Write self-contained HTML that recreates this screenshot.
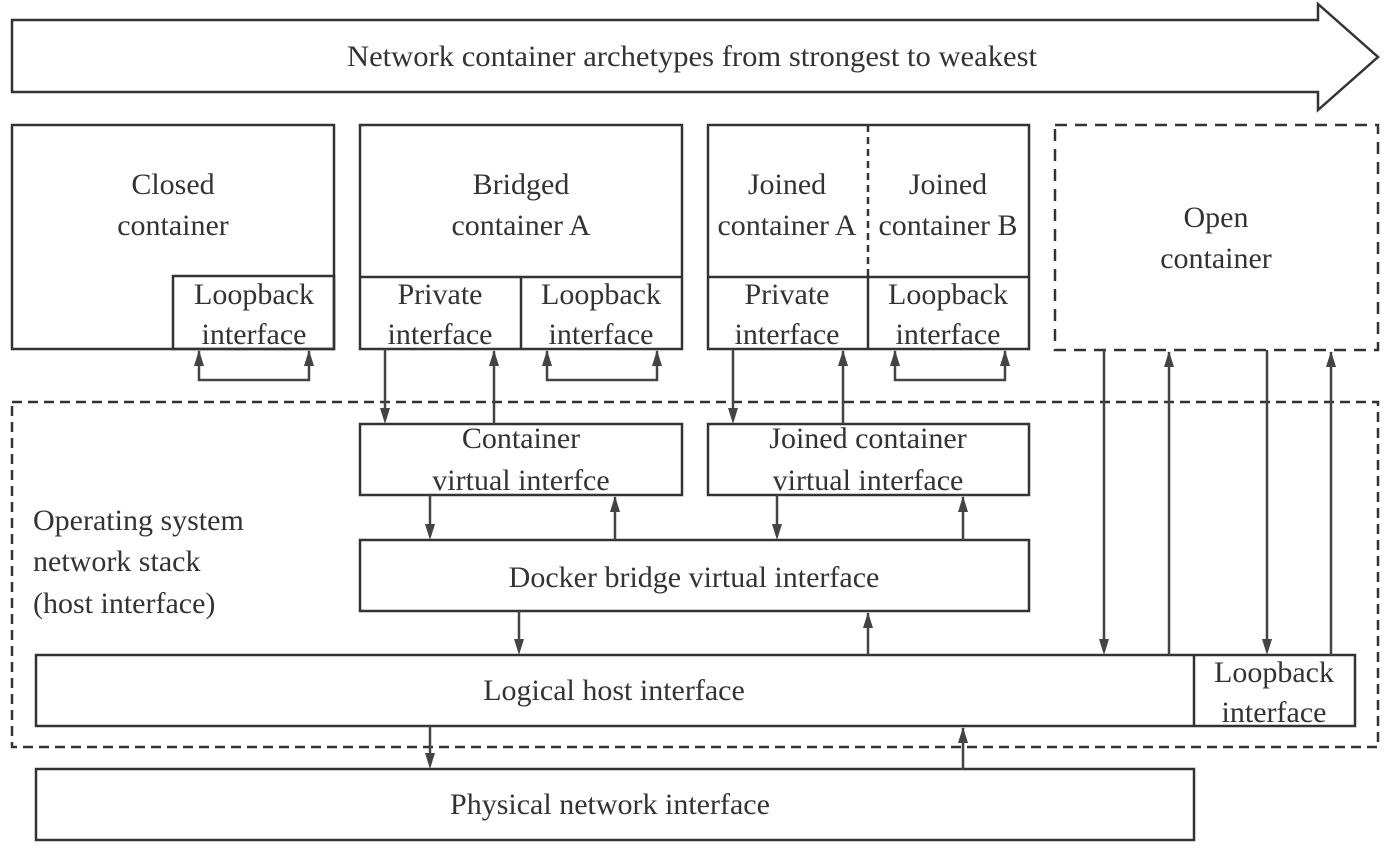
<!DOCTYPE html>
<html><head><meta charset="utf-8"><style>
html,body{margin:0;padding:0;background:#fff;}
svg{display:block;}
text{font-family:"Liberation Serif",serif;font-size:30px;fill:#333;text-anchor:middle;}
</style></head><body>
<svg width="1390" height="848" viewBox="0 0 1390 848" xmlns="http://www.w3.org/2000/svg">
<g fill="none" stroke="#333" stroke-width="2.5">
<path d="M12,20 L1318,20 L1318,4 L1378,57 L1318,110 L1318,92 L12,92 Z"/>
<rect x="12" y="125" width="322" height="224"/>
<rect x="173" y="276" width="161" height="73"/>
<rect x="360" y="125" width="322" height="224"/>
<line x1="360" y1="277" x2="682" y2="277"/><line x1="521" y1="277" x2="521" y2="349"/>
<rect x="708" y="125" width="321" height="224"/>
<line x1="708" y1="277" x2="1029" y2="277"/><line x1="868" y1="277" x2="868" y2="349"/>
<line x1="868" y1="125" x2="868" y2="277" stroke-dasharray="7,5"/>
<rect x="1055" y="125" width="323" height="225" stroke-dasharray="12,8"/>
<rect x="12" y="402" width="1366" height="345" stroke-dasharray="10,6"/>
<rect x="360" y="424" width="322" height="71"/>
<rect x="708" y="424" width="321" height="71"/>
<rect x="360" y="540" width="669" height="71"/>
<rect x="36" y="655" width="1319" height="71"/>
<line x1="1194" y1="655" x2="1194" y2="726"/>
<rect x="36" y="769" width="1158" height="71"/>
</g>
<g stroke="#444" stroke-width="2.5" fill="none">
<path d="M199,351 L199,380 L309,380 L309,351"/>
<path d="M547,351 L547,380 L657,380 L657,351"/>
<path d="M895,351 L895,380 L1005,380 L1005,351"/>
<line x1="385" y1="349" x2="385" y2="420"/>
<line x1="494" y1="424" x2="494" y2="351"/>
<line x1="733" y1="349" x2="733" y2="420"/>
<line x1="843" y1="424" x2="843" y2="351"/>
<line x1="430" y1="495" x2="430" y2="536"/>
<line x1="615" y1="540" x2="615" y2="497"/>
<line x1="777" y1="495" x2="777" y2="536"/>
<line x1="963" y1="540" x2="963" y2="497"/>
<line x1="519" y1="611" x2="519" y2="651"/>
<line x1="868" y1="655" x2="868" y2="613"/>
<line x1="1104" y1="350" x2="1104" y2="651"/>
<line x1="1169" y1="655" x2="1169" y2="352"/>
<line x1="1267" y1="350" x2="1267" y2="651"/>
<line x1="1331" y1="655" x2="1331" y2="352"/>
<line x1="430" y1="726" x2="430" y2="765"/>
<line x1="963" y1="769" x2="963" y2="728"/>
</g>
<g fill="#444">
<!-- up arrows -->
<path d="M194,366 L204,366 L199,350 Z"/><path d="M304,366 L314,366 L309,350 Z"/>
<path d="M542,366 L552,366 L547,350 Z"/><path d="M652,366 L662,366 L657,350 Z"/>
<path d="M890,366 L900,366 L895,350 Z"/><path d="M1000,366 L1010,366 L1005,350 Z"/>
<path d="M489,366 L499,366 L494,350 Z"/><path d="M838,366 L848,366 L843,350 Z"/>
<path d="M610,512 L620,512 L615,496 Z"/><path d="M958,512 L968,512 L963,496 Z"/>
<path d="M863,628 L873,628 L868,612 Z"/>
<path d="M1164,367 L1174,367 L1169,351 Z"/><path d="M1326,367 L1336,367 L1331,351 Z"/>
<path d="M958,743 L968,743 L963,727 Z"/>
<!-- down arrows -->
<path d="M380,408 L390,408 L385,424 Z"/><path d="M728,408 L738,408 L733,424 Z"/>
<path d="M425,524 L435,524 L430,540 Z"/><path d="M772,524 L782,524 L777,540 Z"/>
<path d="M514,639 L524,639 L519,655 Z"/>
<path d="M1099,639 L1109,639 L1104,655 Z"/><path d="M1262,639 L1272,639 L1267,655 Z"/>
<path d="M425,753 L435,753 L430,769 Z"/>
</g>
<text x="692" y="66" textLength="690" lengthAdjust="spacingAndGlyphs">Network container archetypes from strongest to weakest</text>
<text x="173" y="194">Closed</text><text x="173" y="235">container</text>
<text x="254" y="304">Loopback</text><text x="254" y="344">interface</text>
<text x="521" y="194">Bridged</text><text x="521" y="235">container A</text>
<text x="440" y="304">Private</text><text x="440" y="344">interface</text>
<text x="601" y="304">Loopback</text><text x="601" y="344">interface</text>
<text x="787" y="194">Joined</text><text x="787" y="235">container A</text>
<text x="948" y="194">Joined</text><text x="948" y="235">container B</text>
<text x="787" y="304">Private</text><text x="787" y="344">interface</text>
<text x="948" y="304">Loopback</text><text x="948" y="344">interface</text>
<text x="1216" y="227">Open</text><text x="1216" y="268">container</text>
<text x="521" y="448">Container</text><text x="521" y="490">virtual interfce</text>
<text x="868" y="448">Joined container</text><text x="868" y="490">virtual interface</text>
<text x="694" y="587">Docker bridge virtual interface</text>
<text x="614" y="700">Logical host interface</text>
<text x="1274" y="682">Loopback</text><text x="1274" y="722">interface</text>
<text x="610" y="814">Physical network interface</text>
<text x="33" y="530" style="text-anchor:start">Operating system</text>
<text x="33" y="571" style="text-anchor:start">network stack</text>
<text x="33" y="613" style="text-anchor:start">(host interface)</text>
</svg>
</body></html>
